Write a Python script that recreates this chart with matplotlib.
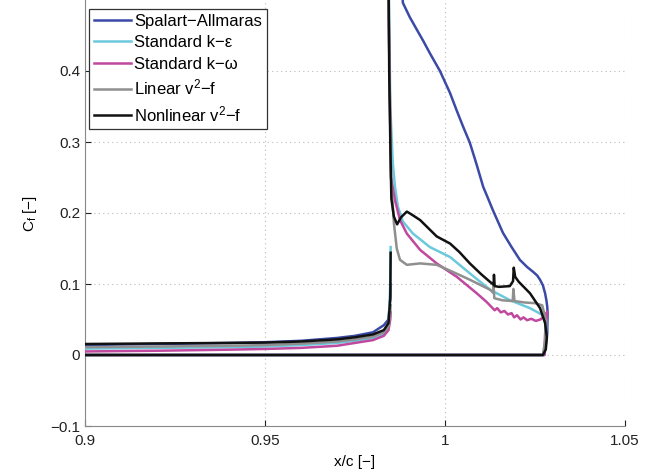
import numpy as np
import matplotlib
matplotlib.use("Agg")
import matplotlib.pyplot as plt

plt.rcParams['font.family'] = ['Liberation Sans', 'DejaVu Sans']
plt.rcParams['mathtext.fontset'] = 'custom'
plt.rcParams['mathtext.rm'] = 'Liberation Sans'
plt.rcParams['mathtext.it'] = 'Liberation Sans'

# ---- data ----
# first element (lower part, ends in the spike near x/c = 0.985)
x_low = [0.9, 0.92, 0.94, 0.95, 0.96, 0.97, 0.975, 0.98, 0.983, 0.9843, 0.9848, 0.9849]
sa_low = [0.014, 0.0155, 0.017, 0.018, 0.020, 0.024, 0.027, 0.032, 0.042, 0.05, 0.08, 0.10]
ke_low = [0.009, 0.010, 0.011, 0.012, 0.014, 0.017, 0.020, 0.024, 0.030, 0.04, 0.10, 0.152]
kw_low = [0.005, 0.006, 0.0075, 0.0085, 0.010, 0.013, 0.017, 0.021, 0.027, 0.035, 0.05, 0.06]
lin_low = [0.011, 0.012, 0.013, 0.014, 0.016, 0.019, 0.022, 0.026, 0.032, 0.04, 0.06, 0.07]
nl_low = [0.0155, 0.0163, 0.017, 0.0175, 0.019, 0.022, 0.025, 0.029, 0.035, 0.045, 0.08, 0.144]

# second element (upper part, closes back along Cf = 0)
sa_x = [0.9875, 0.9883, 0.9902, 0.9922, 0.9940, 0.9958, 0.9986, 1.0014, 1.0032, 1.0050,
        1.0069, 1.0088, 1.0106, 1.0120, 1.0133, 1.0147, 1.0161, 1.0185, 1.0208, 1.0228,
        1.0245, 1.0256, 1.0264, 1.0272, 1.0278, 1.0282, 1.0284, 1.0285, 1.0284, 1.0276, 0.9]
sa_y = [0.56, 0.496, 0.476, 0.458, 0.442, 0.425, 0.40, 0.369, 0.345, 0.322,
        0.299, 0.268, 0.237, 0.220, 0.204, 0.188, 0.172, 0.152, 0.134, 0.124,
        0.117, 0.112, 0.106, 0.098, 0.087, 0.076, 0.068, 0.059, 0.03, 0.0, 0.0]

ke_x = [0.9843, 0.9848, 0.9855, 0.9861, 0.9869, 0.9883, 0.9911, 0.9958, 1.0014, 1.0069,
        1.0125, 1.0181, 1.0236, 1.0272, 1.0282, 1.0280, 1.0272, 0.9]
ke_y = [0.56, 0.35, 0.27, 0.237, 0.209, 0.188, 0.171, 0.152, 0.138, 0.115,
        0.092, 0.077, 0.066, 0.056, 0.05, 0.02, 0.0, 0.0]

kw_x = [0.9843, 0.9850, 0.9861, 0.9875, 0.9894, 0.9931, 0.9977, 1.0033, 1.0088, 1.0115,
        1.0138, 1.0145, 1.0155, 1.0165, 1.0175, 1.0185, 1.0192, 1.0200, 1.0210, 1.0218,
        1.0228, 1.0240, 1.0252, 1.0265, 1.0278, 1.0284, 1.0278, 1.0276, 0.9]
kw_y = [0.5, 0.25, 0.218, 0.190, 0.171, 0.148, 0.129, 0.110, 0.087, 0.075,
        0.063, 0.066, 0.060, 0.062, 0.057, 0.059, 0.053, 0.056, 0.050, 0.053,
        0.049, 0.051, 0.048, 0.050, 0.056, 0.061, 0.03, 0.0, 0.0]

lin_x = [0.9843, 0.9850, 0.9858, 0.9866, 0.9875, 0.9894, 0.9931, 0.9977, 1.0022, 1.0069,
         1.0125, 1.0133, 1.0135, 1.0137, 1.0160, 1.0188, 1.0190, 1.0193, 1.0220, 1.0250,
         1.0270, 1.0280, 1.0278, 1.0272, 0.9]
lin_y = [0.5, 0.25, 0.186, 0.150, 0.134, 0.127, 0.129, 0.127, 0.117, 0.106,
         0.092, 0.088, 0.098, 0.080, 0.077, 0.076, 0.093, 0.076, 0.074, 0.073,
         0.070, 0.05, 0.02, 0.0, 0.0]

nl_x = [0.9843, 0.9845, 0.9848, 0.9851, 0.9858, 0.9867, 0.9878, 0.9894, 0.9910, 0.9931,
        0.9955, 0.9977, 1.0014, 1.0040, 1.0069, 1.0100, 1.0125, 1.0135, 1.0136, 1.0138,
        1.0150, 1.0180, 1.0189, 1.0191, 1.0195, 1.0205, 1.0236, 1.0264, 1.0278, 1.0283,
        1.0280, 1.0272, 0.9]
nl_y = [0.56, 0.40, 0.30, 0.22, 0.195, 0.184, 0.194, 0.202, 0.197, 0.190,
        0.178, 0.167, 0.157, 0.145, 0.129, 0.114, 0.103, 0.099, 0.113, 0.097,
        0.096, 0.097, 0.104, 0.123, 0.110, 0.103, 0.087, 0.066, 0.045, 0.025,
        0.008, 0.0, 0.0]

labels = ['Spalart\u2212Allmaras', 'Standard k\u2212\u03b5', 'Standard k\u2212\u03c9',
          'Linear v$^2$\u2212f', 'Nonlinear v$^2$\u2212f']
colors = ['#3b4aa6', '#6cc9dc', '#c0489e', '#8f8f8f', '#111111']

lows = [sa_low, ke_low, kw_low, lin_low, nl_low]
ups = [(sa_x, sa_y), (ke_x, ke_y), (kw_x, kw_y), (lin_x, lin_y), (nl_x, nl_y)]

fig = plt.figure(figsize=(6.6, 4.74), dpi=100)
ax = fig.add_axes([85 / 660, 1 - 426 / 474, 540 / 660, 426 / 474])

for low, (ux, uy), lab, c in zip(lows, ups, labels, colors):
    xx = list(x_low) + [np.nan] + list(ux)
    yy = list(low) + [np.nan] + list(uy)
    ax.plot(xx, yy, color=c, lw=1.8, label=lab, zorder=3)

ax.set_xlim(0.9, 1.05)
ax.set_ylim(-0.1, 0.5)
ax.set_xticks([0.9, 0.95, 1.0, 1.05])
ax.set_xticklabels(['0.9', '0.95', '1', '1.05'])
ax.set_yticks([-0.1, 0, 0.1, 0.2, 0.3, 0.4])
ax.set_yticklabels(['\u22120.1', '0', '0.1', '0.2', '0.3', '0.4'])
ax.tick_params(direction='in', length=4, labelsize=11, colors='#222222')
ax.tick_params(axis='x', pad=6)
for s in ['top', 'right']:
    ax.spines[s].set_visible(False)
for s in ['left', 'bottom']:
    ax.spines[s].set_color('#888888')
ax.grid(True, linestyle=(0, (1, 3)), color='#bbbbbb', lw=0.8)

ax.set_xlabel('x/c [\u2212]', fontsize=11, labelpad=5)
ax.set_ylabel('C$_\\mathrm{f}$ [\u2212]', fontsize=11, labelpad=8)

leg = ax.legend(loc='upper left', bbox_to_anchor=(0.0074, 0.979), borderaxespad=0,
                fontsize=12, handlelength=2.2, handletextpad=0.2, labelspacing=0.38,
                frameon=True, fancybox=False, framealpha=1, borderpad=0.3)
leg.get_frame().set_edgecolor('#333333')
leg.get_frame().set_linewidth(0.9)

fig.savefig('out.png', dpi=100)
